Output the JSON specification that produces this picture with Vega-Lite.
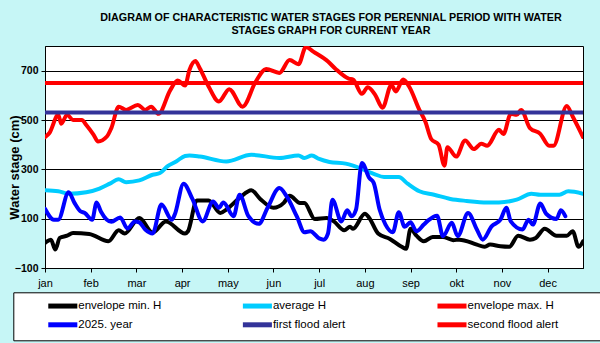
{
  "$schema": "https://vega.github.io/schema/vega-lite/v6.json",
  "width": 538,
  "height": 222,
  "autosize": {"type": "none"},
  "padding": {"left": 45, "top": 46, "right": 17, "bottom": 75},
  "background": "#c6f6f6",
  "title": {
    "text": ["DIAGRAM OF CHARACTERISTIC WATER STAGES FOR PERENNIAL PERIOD WITH WATER", "STAGES GRAPH FOR CURRENT YEAR"],
    "font": "Liberation Sans",
    "fontSize": 10.75,
    "fontWeight": "bold",
    "color": "black",
    "anchor": "middle",
    "dx": 17,
    "offset": 9,
    "lineHeight": 13.5
  },
  "config": {
    "view": {"stroke": "black", "strokeWidth": 1, "fill": "white"},
    "font": "Liberation Sans"
  },
  "data": {
    "values": [
      {"s": "envelope min. H", "d": 0, "v": 2}, {"s": "envelope min. H", "d": 4, "v": 15}, {"s": "envelope min. H", "d": 7, "v": -25}, {"s": "envelope min. H", "d": 10, "v": 22}, {"s": "envelope min. H", "d": 15, "v": 31}, {"s": "envelope min. H", "d": 19, "v": 42}, {"s": "envelope min. H", "d": 30, "v": 38}, {"s": "envelope min. H", "d": 43, "v": 8}, {"s": "envelope min. H", "d": 50, "v": 53}, {"s": "envelope min. H", "d": 54, "v": 40}, {"s": "envelope min. H", "d": 64, "v": 103}, {"s": "envelope min. H", "d": 73, "v": 44}, {"s": "envelope min. H", "d": 82, "v": 89}, {"s": "envelope min. H", "d": 95, "v": 40}, {"s": "envelope min. H", "d": 97, "v": 49}, {"s": "envelope min. H", "d": 103, "v": 174}, {"s": "envelope min. H", "d": 111, "v": 174}, {"s": "envelope min. H", "d": 119, "v": 123}, {"s": "envelope min. H", "d": 123, "v": 137}, {"s": "envelope min. H", "d": 132, "v": 184}, {"s": "envelope min. H", "d": 140, "v": 215}, {"s": "envelope min. H", "d": 146, "v": 180}, {"s": "envelope min. H", "d": 155, "v": 144}, {"s": "envelope min. H", "d": 162, "v": 164}, {"s": "envelope min. H", "d": 166, "v": 193}, {"s": "envelope min. H", "d": 173, "v": 164}, {"s": "envelope min. H", "d": 176, "v": 164}, {"s": "envelope min. H", "d": 183, "v": 99}, {"s": "envelope min. H", "d": 191, "v": 103}, {"s": "envelope min. H", "d": 196, "v": 89}, {"s": "envelope min. H", "d": 203, "v": 53}, {"s": "envelope min. H", "d": 207, "v": 67}, {"s": "envelope min. H", "d": 209, "v": 59}, {"s": "envelope min. H", "d": 217, "v": 120}, {"s": "envelope min. H", "d": 220, "v": 103}, {"s": "envelope min. H", "d": 226, "v": 40}, {"s": "envelope min. H", "d": 234, "v": 18}, {"s": "envelope min. H", "d": 242, "v": -14}, {"s": "envelope min. H", "d": 245, "v": -22}, {"s": "envelope min. H", "d": 248, "v": 59}, {"s": "envelope min. H", "d": 252, "v": 31}, {"s": "envelope min. H", "d": 257, "v": 8}, {"s": "envelope min. H", "d": 263, "v": 26}, {"s": "envelope min. H", "d": 270, "v": 26}, {"s": "envelope min. H", "d": 277, "v": 13}, {"s": "envelope min. H", "d": 281, "v": 15}, {"s": "envelope min. H", "d": 293, "v": -5}, {"s": "envelope min. H", "d": 298, "v": -14}, {"s": "envelope min. H", "d": 302, "v": -5}, {"s": "envelope min. H", "d": 309, "v": -12}, {"s": "envelope min. H", "d": 315, "v": -14}, {"s": "envelope min. H", "d": 321, "v": 31}, {"s": "envelope min. H", "d": 329, "v": 15}, {"s": "envelope min. H", "d": 333, "v": 22}, {"s": "envelope min. H", "d": 339, "v": 59}, {"s": "envelope min. H", "d": 347, "v": 31}, {"s": "envelope min. H", "d": 354, "v": 31}, {"s": "envelope min. H", "d": 358, "v": 49}, {"s": "envelope min. H", "d": 362, "v": -14}, {"s": "envelope min. H", "d": 365, "v": 8},
      {"s": "average H", "d": 0, "v": 215}, {"s": "average H", "d": 9, "v": 211}, {"s": "average H", "d": 16, "v": 201}, {"s": "average H", "d": 28, "v": 207}, {"s": "average H", "d": 37, "v": 222}, {"s": "average H", "d": 44, "v": 242}, {"s": "average H", "d": 50, "v": 260}, {"s": "average H", "d": 55, "v": 248}, {"s": "average H", "d": 64, "v": 255}, {"s": "average H", "d": 73, "v": 278}, {"s": "average H", "d": 78, "v": 285}, {"s": "average H", "d": 83, "v": 312}, {"s": "average H", "d": 89, "v": 332}, {"s": "average H", "d": 95, "v": 354}, {"s": "average H", "d": 98, "v": 356}, {"s": "average H", "d": 105, "v": 352}, {"s": "average H", "d": 123, "v": 332}, {"s": "average H", "d": 140, "v": 359}, {"s": "average H", "d": 159, "v": 346}, {"s": "average H", "d": 172, "v": 356}, {"s": "average H", "d": 176, "v": 346}, {"s": "average H", "d": 181, "v": 356}, {"s": "average H", "d": 186, "v": 342}, {"s": "average H", "d": 193, "v": 330}, {"s": "average H", "d": 204, "v": 323}, {"s": "average H", "d": 209, "v": 315}, {"s": "average H", "d": 223, "v": 282}, {"s": "average H", "d": 230, "v": 269}, {"s": "average H", "d": 240, "v": 269}, {"s": "average H", "d": 246, "v": 242}, {"s": "average H", "d": 254, "v": 211}, {"s": "average H", "d": 264, "v": 197}, {"s": "average H", "d": 275, "v": 180}, {"s": "average H", "d": 286, "v": 172}, {"s": "average H", "d": 300, "v": 166}, {"s": "average H", "d": 308, "v": 166}, {"s": "average H", "d": 320, "v": 177}, {"s": "average H", "d": 330, "v": 201}, {"s": "average H", "d": 336, "v": 197}, {"s": "average H", "d": 349, "v": 197}, {"s": "average H", "d": 355, "v": 211}, {"s": "average H", "d": 365, "v": 201},
      {"s": "envelope max. H", "d": 0, "v": 430}, {"s": "envelope max. H", "d": 3, "v": 447}, {"s": "envelope max. H", "d": 9, "v": 521}, {"s": "envelope max. H", "d": 11, "v": 485}, {"s": "envelope max. H", "d": 15, "v": 521}, {"s": "envelope max. H", "d": 19, "v": 500}, {"s": "envelope max. H", "d": 25, "v": 500}, {"s": "envelope max. H", "d": 28, "v": 480}, {"s": "envelope max. H", "d": 33, "v": 440}, {"s": "envelope max. H", "d": 36, "v": 413}, {"s": "envelope max. H", "d": 42, "v": 433}, {"s": "envelope max. H", "d": 45, "v": 467}, {"s": "envelope max. H", "d": 50, "v": 554}, {"s": "envelope max. H", "d": 55, "v": 541}, {"s": "envelope max. H", "d": 63, "v": 561}, {"s": "envelope max. H", "d": 68, "v": 541}, {"s": "envelope max. H", "d": 72, "v": 554}, {"s": "envelope max. H", "d": 77, "v": 525}, {"s": "envelope max. H", "d": 85, "v": 621}, {"s": "envelope max. H", "d": 90, "v": 660}, {"s": "envelope max. H", "d": 95, "v": 640}, {"s": "envelope max. H", "d": 98, "v": 703}, {"s": "envelope max. H", "d": 102, "v": 739}, {"s": "envelope max. H", "d": 105, "v": 710}, {"s": "envelope max. H", "d": 111, "v": 636}, {"s": "envelope max. H", "d": 118, "v": 575}, {"s": "envelope max. H", "d": 125, "v": 625}, {"s": "envelope max. H", "d": 134, "v": 554}, {"s": "envelope max. H", "d": 143, "v": 656}, {"s": "envelope max. H", "d": 150, "v": 707}, {"s": "envelope max. H", "d": 159, "v": 691}, {"s": "envelope max. H", "d": 166, "v": 743}, {"s": "envelope max. H", "d": 172, "v": 726}, {"s": "envelope max. H", "d": 177, "v": 796}, {"s": "envelope max. H", "d": 182, "v": 777}, {"s": "envelope max. H", "d": 192, "v": 737}, {"s": "envelope max. H", "d": 197, "v": 708}, {"s": "envelope max. H", "d": 206, "v": 668}, {"s": "envelope max. H", "d": 209, "v": 664}, {"s": "envelope max. H", "d": 215, "v": 606}, {"s": "envelope max. H", "d": 219, "v": 633}, {"s": "envelope max. H", "d": 224, "v": 602}, {"s": "envelope max. H", "d": 229, "v": 550}, {"s": "envelope max. H", "d": 235, "v": 642}, {"s": "envelope max. H", "d": 238, "v": 616}, {"s": "envelope max. H", "d": 243, "v": 664}, {"s": "envelope max. H", "d": 247, "v": 636}, {"s": "envelope max. H", "d": 254, "v": 541}, {"s": "envelope max. H", "d": 258, "v": 494}, {"s": "envelope max. H", "d": 262, "v": 423}, {"s": "envelope max. H", "d": 267, "v": 400}, {"s": "envelope max. H", "d": 271, "v": 315}, {"s": "envelope max. H", "d": 273, "v": 390}, {"s": "envelope max. H", "d": 279, "v": 352}, {"s": "envelope max. H", "d": 285, "v": 417}, {"s": "envelope max. H", "d": 291, "v": 382}, {"s": "envelope max. H", "d": 296, "v": 404}, {"s": "envelope max. H", "d": 300, "v": 396}, {"s": "envelope max. H", "d": 308, "v": 460}, {"s": "envelope max. H", "d": 311, "v": 443}, {"s": "envelope max. H", "d": 316, "v": 525}, {"s": "envelope max. H", "d": 320, "v": 521}, {"s": "envelope max. H", "d": 323, "v": 541}, {"s": "envelope max. H", "d": 329, "v": 467}, {"s": "envelope max. H", "d": 336, "v": 444}, {"s": "envelope max. H", "d": 342, "v": 396}, {"s": "envelope max. H", "d": 345, "v": 396}, {"s": "envelope max. H", "d": 354, "v": 557}, {"s": "envelope max. H", "d": 358, "v": 514}, {"s": "envelope max. H", "d": 365, "v": 431},
      {"s": "2025. year", "d": 0, "v": 140}, {"s": "2025. year", "d": 6, "v": 96}, {"s": "2025. year", "d": 9, "v": 96}, {"s": "2025. year", "d": 16, "v": 207}, {"s": "2025. year", "d": 20, "v": 164}, {"s": "2025. year", "d": 24, "v": 130}, {"s": "2025. year", "d": 27, "v": 123}, {"s": "2025. year", "d": 32, "v": 96}, {"s": "2025. year", "d": 35, "v": 166}, {"s": "2025. year", "d": 38, "v": 128}, {"s": "2025. year", "d": 45, "v": 87}, {"s": "2025. year", "d": 51, "v": 105}, {"s": "2025. year", "d": 56, "v": 60}, {"s": "2025. year", "d": 61, "v": 89}, {"s": "2025. year", "d": 64, "v": 85}, {"s": "2025. year", "d": 68, "v": 56}, {"s": "2025. year", "d": 73, "v": 40}, {"s": "2025. year", "d": 79, "v": 157}, {"s": "2025. year", "d": 86, "v": 96}, {"s": "2025. year", "d": 88, "v": 116}, {"s": "2025. year", "d": 94, "v": 242}, {"s": "2025. year", "d": 100, "v": 180}, {"s": "2025. year", "d": 107, "v": 89}, {"s": "2025. year", "d": 114, "v": 170}, {"s": "2025. year", "d": 118, "v": 144}, {"s": "2025. year", "d": 121, "v": 166}, {"s": "2025. year", "d": 128, "v": 110}, {"s": "2025. year", "d": 132, "v": 197}, {"s": "2025. year", "d": 138, "v": 110}, {"s": "2025. year", "d": 145, "v": 79}, {"s": "2025. year", "d": 151, "v": 144}, {"s": "2025. year", "d": 159, "v": 224}, {"s": "2025. year", "d": 164, "v": 190}, {"s": "2025. year", "d": 171, "v": 107}, {"s": "2025. year", "d": 176, "v": 45}, {"s": "2025. year", "d": 180, "v": 49}, {"s": "2025. year", "d": 186, "v": 20}, {"s": "2025. year", "d": 189, "v": 15}, {"s": "2025. year", "d": 192, "v": 40}, {"s": "2025. year", "d": 195, "v": 177}, {"s": "2025. year", "d": 201, "v": 89}, {"s": "2025. year", "d": 205, "v": 134}, {"s": "2025. year", "d": 208, "v": 110}, {"s": "2025. year", "d": 211, "v": 137}, {"s": "2025. year", "d": 215, "v": 326}, {"s": "2025. year", "d": 220, "v": 265}, {"s": "2025. year", "d": 223, "v": 245}, {"s": "2025. year", "d": 227, "v": 137}, {"s": "2025. year", "d": 231, "v": 76}, {"s": "2025. year", "d": 236, "v": 45}, {"s": "2025. year", "d": 240, "v": 126}, {"s": "2025. year", "d": 244, "v": 67}, {"s": "2025. year", "d": 248, "v": 85}, {"s": "2025. year", "d": 252, "v": 49}, {"s": "2025. year", "d": 257, "v": 76}, {"s": "2025. year", "d": 260, "v": 93}, {"s": "2025. year", "d": 266, "v": 112}, {"s": "2025. year", "d": 270, "v": 29}, {"s": "2025. year", "d": 276, "v": 83}, {"s": "2025. year", "d": 280, "v": 29}, {"s": "2025. year", "d": 287, "v": 123}, {"s": "2025. year", "d": 293, "v": 56}, {"s": "2025. year", "d": 297, "v": 15}, {"s": "2025. year", "d": 303, "v": 69}, {"s": "2025. year", "d": 309, "v": 96}, {"s": "2025. year", "d": 313, "v": 144}, {"s": "2025. year", "d": 316, "v": 89}, {"s": "2025. year", "d": 324, "v": 56}, {"s": "2025. year", "d": 328, "v": 96}, {"s": "2025. year", "d": 331, "v": 76}, {"s": "2025. year", "d": 336, "v": 161}, {"s": "2025. year", "d": 340, "v": 120}, {"s": "2025. year", "d": 347, "v": 99}, {"s": "2025. year", "d": 350, "v": 134}, {"s": "2025. year", "d": 353, "v": 110},
      {"s": "first flood alert", "d": 0, "v": 530}, {"s": "first flood alert", "d": 365, "v": 530},
      {"s": "second flood alert", "d": 0, "v": 650}, {"s": "second flood alert", "d": 365, "v": 650}
    ]
  },
  "mark": {"type": "line", "strokeWidth": 4, "interpolate": "monotone", "strokeJoin": "round", "strokeCap": "round", "clip": true},
  "encoding": {
    "x": {
      "field": "d", "type": "quantitative",
      "scale": {"domain": [0, 365], "nice": false, "zero": false},
      "axis": {
        "title": null, "grid": false,
        "values": [0, 31, 62, 93, 124, 155, 186, 217, 248, 279, 310, 341],
        "labelExpr": "['jan','feb','mar','apr','may','jun','jul','aug','sep','okt','nov','dec'][round(datum.value/31)]",
        "labelFontSize": 11, "labelColor": "black", "labelPadding": 5,
        "tickSize": 4, "tickColor": "black", "domainColor": "black",
        "labelFlush": false
      }
    },
    "y": {
      "field": "v", "type": "quantitative",
      "scale": {"domain": [-100, 800], "nice": false, "zero": false},
      "axis": {
        "title": "Water stage (cm)",
        "titleFontSize": 13, "titleFontWeight": "bold", "titleColor": "black",
        "titleX": -31, "titleY": 121, "titleBaseline": "middle", "titleAlign": "center", "titleAngle": 270,
        "values": [-100, 100, 300, 500, 700],
        "grid": true, "gridColor": "black", "gridOpacity": 1, "gridWidth": 1,
        "labelFontSize": 10.5, "labelFontWeight": "bold", "labelColor": "black", "labelPadding": 3,
        "tickSize": 4, "tickColor": "black", "domainColor": "black", "labelFlush": false
      }
    },
    "color": {
      "field": "s", "type": "nominal",
      "scale": {
        "domain": ["envelope min. H", "average H", "envelope max. H", "2025. year", "first flood alert", "second flood alert"],
        "range": ["#000000", "#00ccff", "#ff0000", "#0000ff", "#333399", "#ff0000"]
      },
      "legend": {
        "orient": "none", "legendX": -31.7, "legendY": 246.3,
        "title": null, "columns": 3, "direction": "horizontal",
        "symbolType": "M-2.5,0H2.5M23.8,0", "symbolSize": 135, "symbolStrokeWidth": 5,
        "symbolOffset": 36, "labelOffset": 7,
        "labelFontSize": 11.5, "labelColor": "black",
        "gridAlign": "all", "columnPadding": 1.6, "rowPadding": -2.4,
        "padding": 5, "fillColor": "white", "strokeColor": "black",
        "labelLimit": 300
      }
    }
  }
}
